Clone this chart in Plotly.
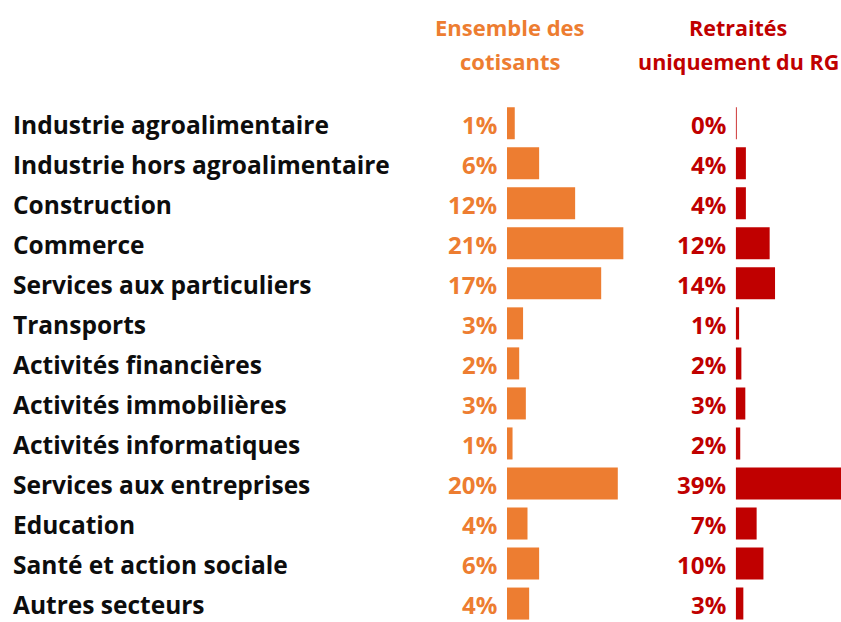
import plotly.graph_objects as go

categories = [
    "Industrie agroalimentaire",
    "Industrie hors agroalimentaire",
    "Construction",
    "Commerce",
    "Services aux particuliers",
    "Transports",
    "Activités financières",
    "Activités immobilières",
    "Activités informatiques",
    "Services aux entreprises",
    "Education",
    "Santé et action sociale",
    "Autres secteurs",
]
ensemble_values = [1.4, 5.8, 12.3, 21.0, 17.0, 2.9, 2.2, 3.4, 1.0, 20.0, 3.7, 5.8, 4.0]
ensemble_labels = ["1%", "6%", "12%", "21%", "17%", "3%", "2%", "3%", "1%", "20%", "4%", "6%", "4%"]
rg_values = [0.3, 3.6, 3.6, 12.0, 13.9, 1.2, 2.0, 3.4, 1.6, 39.0, 7.4, 9.8, 2.7]
rg_labels = ["0%", "4%", "4%", "12%", "14%", "1%", "2%", "3%", "2%", "39%", "7%", "10%", "3%"]

header_left = ["Ensemble des", "cotisants"]
header_right = ["Retraités", "uniquement du RG"]

ORANGE = "#ED7D31"
RED = "#C00000"
FONT = "Open Sans"
W, H = 841, 622

fig = go.Figure()
fig.add_trace(go.Bar(y=categories, x=ensemble_values, orientation="h",
                     marker=dict(color=ORANGE, line=dict(width=0)),
                     xaxis="x", yaxis="y", hoverinfo="skip"))
fig.add_trace(go.Bar(y=categories, x=rg_values, orientation="h",
                     marker=dict(color=RED, line=dict(width=0)),
                     xaxis="x2", yaxis="y", hoverinfo="skip"))

annotations = []
for cat, lab in zip(categories, ensemble_labels):
    annotations.append(dict(xref="x", yref="y", x=0, y=cat, text=lab, showarrow=False,
                            xanchor="right", xshift=-8, yshift=-1,
                            font=dict(family=FONT, size=24, color=ORANGE, weight="bold")))
for cat, lab in zip(categories, rg_labels):
    annotations.append(dict(xref="x2", yref="y", x=0, y=cat, text=lab, showarrow=False,
                            xanchor="right", xshift=-8, yshift=-1,
                            font=dict(family=FONT, size=24, color=RED, weight="bold")))
for cat in categories:
    annotations.append(dict(xref="paper", yref="y", x=11 / W, y=cat, text=cat, showarrow=False,
                            xanchor="left", yshift=-1,
                            font=dict(family=FONT, size=24.5, color="#0d0d0d", weight="bold")))
for i, t in enumerate(header_left):
    annotations.append(dict(xref="paper", yref="paper", x=510 / W, y=1 - (27 + 34 * i) / H,
                            text=t, showarrow=False, xanchor="center", yanchor="middle",
                            font=dict(family=FONT, size=22, color=ORANGE, weight="bold")))
for i, t in enumerate(header_right):
    annotations.append(dict(xref="paper", yref="paper", x=738 / W, y=1 - (27 + 34 * i) / H,
                            text=t, showarrow=False, xanchor="center", yanchor="middle",
                            font=dict(family=FONT, size=21.5, color=RED, weight="bold")))

row_px = 40.03
top_px = 103.2
fig.update_layout(
    width=W, height=H,
    margin=dict(l=0, r=0, t=0, b=0),
    paper_bgcolor="white", plot_bgcolor="white",
    showlegend=False, bargap=0.2,
    xaxis=dict(domain=[507 / W, 700 / W], range=[0, 193 / 5.54], visible=False, fixedrange=True),
    xaxis2=dict(domain=[735.7 / W, 1], range=[0, 105.3 / 2.83], visible=False, anchor="y", fixedrange=True),
    yaxis=dict(domain=[0, 1 - top_px / H], type="category", categoryarray=categories,
               range=[-0.5 + (H - top_px) / row_px, -0.5], visible=False, fixedrange=True),
    annotations=annotations,
)

fig.write_html(
    "out.html",
    config={"displayModeBar": False},
    post_script="document.body.style.margin='0';document.body.style.overflow='hidden';",
)
